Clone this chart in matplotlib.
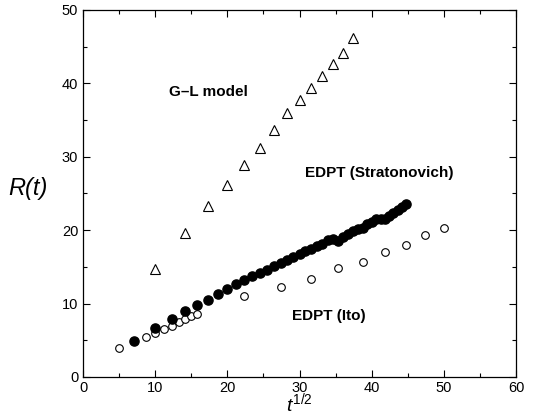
import numpy as np
import matplotlib
matplotlib.use("Agg")
import matplotlib.pyplot as plt
from matplotlib.ticker import MultipleLocator

plt.rcParams['font.family'] = ['Liberation Sans', 'DejaVu Sans']
plt.rcParams['mathtext.fontset'] = 'custom'
plt.rcParams['mathtext.it'] = 'Liberation Sans:italic'
plt.rcParams['mathtext.rm'] = 'Liberation Sans'

# G-L model (triangles)
gl_x = [10.0, 14.14, 17.32, 20.0, 22.36, 24.49, 26.46, 28.28, 30.0, 31.62,
        33.17, 34.64, 36.06, 37.42]
gl_y = [14.7, 19.6, 23.3, 26.2, 28.9, 31.2, 33.7, 35.9, 37.8, 39.4,
        41.0, 42.6, 44.2, 46.2]

# EDPT (Ito) - open circles
ito_x = [5.0, 8.66, 10.0, 11.18, 12.25, 13.23, 14.14, 15.0, 15.81,
         22.36, 27.39, 31.62, 35.36, 38.73, 41.83, 44.72, 47.43, 50.0]
ito_y = [3.95, 5.4, 5.95, 6.5, 7.0, 7.45, 7.9, 8.3, 8.6,
         11.0, 12.3, 13.4, 14.9, 15.7, 17.0, 18.0, 19.4, 20.3]

# EDPT (Stratonovich) - filled circles
str_x = [7.07, 10.0, 12.25, 14.14, 15.81, 17.32, 18.71, 20.0, 21.21, 22.36,
         23.45, 24.49, 25.50, 26.46, 27.39, 28.28, 29.15, 30.0, 30.82, 31.62,
         32.40, 33.17, 33.91, 34.64, 35.36, 36.06, 36.74, 37.42, 38.08, 38.73,
         39.37, 40.0, 40.62, 41.23, 41.83, 42.43, 43.01, 43.59, 44.16, 44.72]
str_y = [4.95, 6.7, 7.95, 8.95, 9.8, 10.5, 11.25, 12.0, 12.6, 13.15,
         13.7, 14.15, 14.55, 15.05, 15.55, 15.9, 16.3, 16.7, 17.1, 17.45,
         17.8, 18.15, 18.6, 18.75, 18.5, 19.1, 19.5, 19.85, 20.1, 20.3,
         20.8, 21.1, 21.5, 21.55, 21.5, 21.9, 22.3, 22.7, 23.1, 23.5]

fig = plt.figure(figsize=(5.33, 4.16), dpi=100)
ax = fig.add_axes([0.156, 0.094, 0.812, 0.882])

ax.plot(gl_x, gl_y, linestyle='none', marker='^', markersize=6.5,
        markerfacecolor='white', markeredgecolor='black', markeredgewidth=0.8)
ax.plot(ito_x, ito_y, linestyle='none', marker='o', markersize=5.5,
        markerfacecolor='white', markeredgecolor='black', markeredgewidth=0.8)
ax.plot(str_x, str_y, linestyle='none', marker='o', markersize=6.6,
        markerfacecolor='black', markeredgecolor='black')

ax.set_xlim(0, 60)
ax.set_ylim(0, 50)
ax.xaxis.set_major_locator(MultipleLocator(10))
ax.xaxis.set_minor_locator(MultipleLocator(5))
ax.yaxis.set_major_locator(MultipleLocator(10))
ax.yaxis.set_minor_locator(MultipleLocator(5))
ax.tick_params(which='both', direction='in', top=True, right=True,
               labelsize=10.5, width=0.8)
ax.tick_params(which='major', length=5)
ax.tick_params(which='minor', length=3)
ax.tick_params(axis='x', pad=3)
for s in ax.spines.values():
    s.set_linewidth(0.9)

ax.text(17.3, 38.8, 'G\u2013L model', fontsize=11, fontweight='bold',
        ha='center', va='center')
ax.text(41.1, 27.8, 'EDPT (Stratonovich)', fontsize=11, fontweight='bold',
        ha='center', va='center')
ax.text(34.1, 8.3, 'EDPT (Ito)', fontsize=11, fontweight='bold',
        ha='center', va='center')

fig.text(0.053, 0.546, 'R(t)', fontsize=17, fontstyle='italic',
         ha='center', va='center')
fig.text(0.561, 0.002, r'$t^{\mathit{1/2}}$', fontsize=14,
         ha='center', va='bottom')

fig.savefig('out.png', dpi=100)
